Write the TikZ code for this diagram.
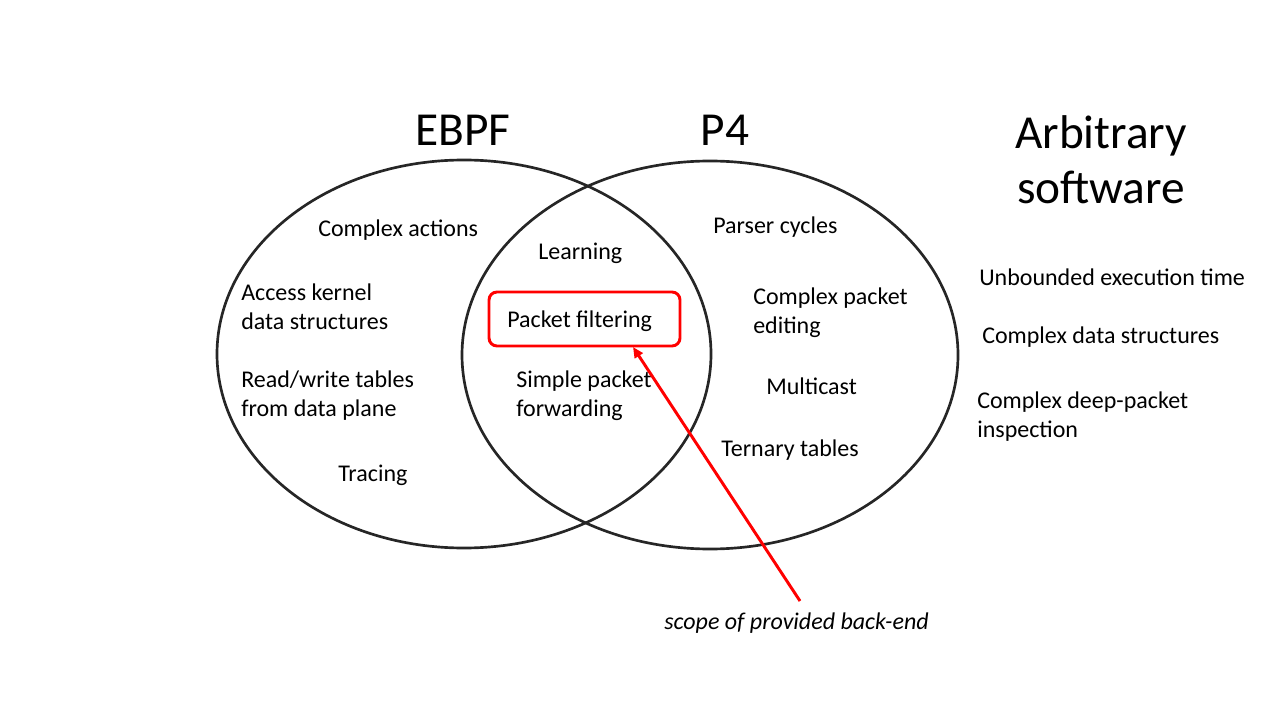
\documentclass[tikz,border=0pt]{standalone}
\usepackage{fontspec}
\setmainfont{Carlito}
\usetikzlibrary{arrows.meta}
\definecolor{ink}{HTML}{262626}
\tikzset{
  body/.style={anchor=west, align=left, inner sep=0pt, yshift=-1.2pt, font=\fontsize{18}{21.75}\selectfont},
  title/.style={anchor=center, align=center, inner sep=0pt, font=\fontsize{35.5}{41.5}\selectfont},
  setline/.style={draw=ink, line width=2pt},
  redbox/.style={draw=red, line width=2.2pt, rounded corners=6pt},
  redarrow/.style={draw=red, line width=2.2pt, -{Triangle[length=8pt,width=7pt]}},
}
\begin{document}
\begin{tikzpicture}[x=0.75pt,y=-0.75pt]
\useasboundingbox (0,0) rectangle (1280,720);
% sets
\draw[setline] (464,354) ellipse [x radius=247, y radius=194];
\draw[setline] (710,355) ellipse [x radius=248, y radius=194];
% titles
\node[title] (ebpf) at (463,130) {EBPF};
\node[title] (p4) at (725,130) {P4};
\node[title] (arb) at (1101,160) {Arbitrary\\software};
% EBPF only
\node[body] (ca) at (318,229) {Complex actions};
\node[body] (ak) at (241,305.5) {Access kernel\\data structures};
\node[body] (rw) at (241,393.5) {Read/write tables\\from data plane};
\node[body] (tr) at (338,474) {Tracing};
% intersection
\node[body] (le) at (538,252) {Learning};
\node[redbox, minimum width=191*0.75pt, minimum height=54*0.75pt, inner sep=0pt] (pf) at (584.5,319) {};
\node[body] (pft) at (507,320) {Packet filtering};
\node[body] (sp) at (516,394.5) {Simple packet\\forwarding};
% P4 only
\node[body] (pc) at (713,226) {Parser cycles};
\node[body] (cp) at (753,311.5) {Complex packet\\editing};
\node[body] (mc) at (766,385) {Multicast};
\node[body] (tt) at (721,448) {Ternary tables};
% arbitrary software
\node[body] (ue) at (979,276) {Unbounded execution time};
\node[body] (cd) at (982,336) {Complex data structures};
\node[body] (dp) at (977,414.5) {Complex deep-packet\\inspection};
% annotation
\node[body, font=\fontsize{18}{21.75}\selectfont\itshape] (scope) at (664,621) {scope of provided back-end};
\coordinate (tail) at (800,601);
\draw[redarrow] (tail) -- (633,347);
\end{tikzpicture}
\end{document}
